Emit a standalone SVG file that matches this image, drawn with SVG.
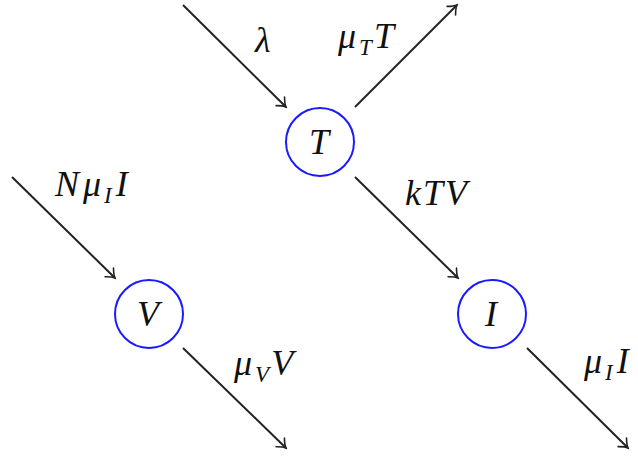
<svg xmlns="http://www.w3.org/2000/svg" width="638" height="457" viewBox="0 0 638 457">
<style>
.node{fill:none;stroke:#1a1aff;stroke-width:2}
.lbl{font-family:"Liberation Serif",serif;font-style:italic;font-size:36px;fill:#111;letter-spacing:2px}
.sub{font-size:23px;letter-spacing:0}
.edge{stroke:#222;stroke-width:2;fill:none;marker-end:url(#arr)}
</style>
<defs>
<marker id="arr" viewBox="-10 -8 12 16" markerWidth="12" markerHeight="16" refX="0" refY="0" orient="auto" markerUnits="userSpaceOnUse">
<path d="M-8,-6 Q-3,-1 0,0 Q-3,1 -8,6" fill="none" stroke="#222" stroke-width="1.6" stroke-linecap="round"/>
</marker>
</defs>
<g id="connectors">
<line class="edge" x1="183" y1="5" x2="286" y2="107"/>
<line class="edge" x1="355" y1="107" x2="457" y2="5"/>
<line class="edge" x1="355" y1="177" x2="458" y2="278"/>
<line class="edge" x1="527" y1="348" x2="628" y2="448"/>
<line class="edge" x1="12" y1="177" x2="115" y2="278"/>
<line class="edge" x1="183" y1="348" x2="286" y2="448"/>
<text class="lbl" x="255" y="52">λ</text>
<text class="lbl" x="338" y="48">μ<tspan class="sub" dy="7" dx="1">T</tspan><tspan dy="-7" dx="2">T</tspan></text>
<text class="lbl" x="55" y="196">N<tspan dx="2">μ</tspan><tspan class="sub" dy="7" dx="1">I</tspan><tspan dy="-7" dx="4">I</tspan></text>
<text class="lbl" x="405" y="205">kTV</text>
<text class="lbl" x="234" y="375">μ<tspan class="sub" dy="7" dx="1">V</tspan><tspan dy="-7" dx="2">V</tspan></text>
<text class="lbl" x="584" y="373">μ<tspan class="sub" dy="7" dx="1">I</tspan><tspan dy="-7" dx="4">I</tspan></text>
</g>
<g id="node-T">
<circle class="node" cx="320" cy="142" r="34"/>
<text class="lbl" x="320" y="154" text-anchor="middle">T</text>
</g>
<g id="node-V">
<circle class="node" cx="149" cy="314" r="34"/>
<text class="lbl" x="149" y="326" text-anchor="middle">V</text>
</g>
<g id="node-I">
<circle class="node" cx="492" cy="314" r="34"/>
<text class="lbl" x="492" y="326" text-anchor="middle">I</text>
</g>
</svg>
